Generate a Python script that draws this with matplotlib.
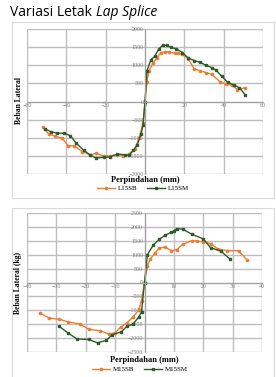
import matplotlib.pyplot as plt
from matplotlib.patches import Rectangle

# top chart: L15SB / L15SM
l15sb_x = [-52, -49, -46, -42, -39, -36, -32, -28, -25, -21, -18, -14, -11, -8, -5, -3, -1, 0,
           1, 2, 4, 6, 8, 10, 12, 15, 17, 19, 22, 25, 28, 31, 34, 38, 41, 44, 47, 51]
l15sb_y = [-700, -900, -950, -1020, -1230, -1220, -1380, -1470, -1430, -1500, -1500, -1470, -1490, -1450,
           -1300, -1000, -600, 0, 550, 850, 1050, 1200, 1350, 1370, 1370, 1330, 1330, 1300, 1180, 900,
           850, 800, 750, 550, 480, 450, 330, 380]
l15sm_x = [-51, -48, -45, -41, -38, -35, -31, -28, -25, -21, -18, -14, -10, -8, -6, -4, -2, -1, 0,
           1, 3, 5, 7, 9, 11, 13, 16, 19, 22, 25, 28, 31, 34, 36, 39, 42, 45, 48, 51]
l15sm_y = [-750, -830, -870, -880, -940, -1150, -1350, -1470, -1560, -1540, -1530, -1450, -1470, -1480,
           -1350, -1200, -900, -650, 0, 850, 1150, 1250, 1450, 1550, 1550, 1500, 1450, 1350, 1200, 1130,
           1080, 1000, 930, 870, 700, 530, 460, 380, 180]

# bottom chart: M15SB / M15SM
m15sb_x = [-35.5, -32.5, -29, -26, -22, -19, -15, -12, -10, -8, -6, -4, -2, -1, 0,
           1, 2, 3.5, 5, 7, 9, 11, 13, 16, 18, 20, 22.5, 25, 28, 32, 35]
m15sb_y = [-1100, -1280, -1320, -1420, -1490, -1680, -1740, -1860, -1800, -1600, -1450, -1250, -1000,
           -650, 0, 600, 850, 1050, 1230, 1280, 1150, 1180, 1370, 1500, 1490, 1460, 1400, 1200, 1150,
           1140, 800]
m15sm_x = [-29, -26, -23, -19, -16, -13, -11, -8, -6, -4, -2, -1, 0,
           1, 3, 5, 7, 9, 10, 11, 13, 16, 20, 22.5, 26, 29]
m15sm_y = [-1580, -1820, -2030, -2050, -2170, -2080, -1880, -1780, -1580, -1500, -1250, -1050, 0,
           1000, 1350, 1550, 1700, 1800, 1850, 1940, 1920, 1740, 1570, 1250, 1130, 850]

orange = '#ED7D31'
green = '#2F5B2A'
W, H = 276, 377


def px_axes(fig, left, top, right, bottom):
    return fig.add_axes([left / W, 1 - bottom / H, (right - left) / W, (bottom - top) / H])


def style_axes(ax, xlim, xstep, ylim, ystep):
    xt = list(range(xlim[0], xlim[1] + 1, xstep))
    yt = list(range(ylim[0], ylim[1] + 1, ystep))
    ax.set_xlim(*xlim)
    ax.set_ylim(*ylim)
    ax.set_xticks(xt)
    ax.set_yticks(yt)
    ax.grid(True, color='#bdbdbd', linewidth=1.0)
    for s in ['top', 'right']:
        ax.spines[s].set_visible(False)
    ax.spines['left'].set_position('zero')
    ax.spines['bottom'].set_position('zero')
    ax.spines['left'].set_color('#a0a0a0')
    ax.spines['bottom'].set_color('#a0a0a0')
    ax.spines['left'].set_linewidth(0.8)
    ax.spines['bottom'].set_linewidth(0.8)
    ax.tick_params(length=0, labelsize=4.3, labelcolor='#7f7f7f', pad=1)
    for lab in ax.get_xticklabels() + ax.get_yticklabels():
        lab.set_family('Liberation Serif')


fig = plt.figure(figsize=(W / 100, H / 100), dpi=100)

# panel boxes
fig.patches.append(Rectangle((12 / W, 1 - 198 / H), 262 / W, 176 / H, transform=fig.transFigure,
                             fill=False, ec='#d9d9d9', lw=0.8))
fig.patches.append(Rectangle((12 / W, 1 - 380 / H), 262 / W, 172 / H, transform=fig.transFigure,
                             fill=False, ec='#d9d9d9', lw=0.8))

# top chart
ax1 = px_axes(fig, 27, 29, 263, 174)
style_axes(ax1, (-60, 60), 20, (-2000, 2000), 500)
ax1.plot(l15sb_x, l15sb_y, color=orange, lw=1.0, marker='o', ms=1.6, label='L15SB')
ax1.plot(l15sm_x, l15sm_y, color=green, lw=1.0, marker='s', ms=1.6, label='L15SM')
fig.text(19 / W, 1 - 100 / H, 'Beban Lateral', rotation=90, fontsize=5.5, weight='bold',
         family='Liberation Serif', ha='center', va='center')
fig.text(145 / W, 1 - 180 / H, 'Perpindahan (mm)', fontsize=6, weight='bold',
         family='Liberation Serif', ha='center', va='center')
fig.legend(*ax1.get_legend_handles_labels(), loc='center', bbox_to_anchor=(143 / W, 1 - 188.5 / H),
           ncol=2, frameon=False, prop={'family': 'Liberation Serif', 'size': 5},
           handlelength=2.5, columnspacing=1.5, handletextpad=0.4)

# bottom chart
ax2 = px_axes(fig, 27, 213, 262, 352)
style_axes(ax2, (-40, 40), 10, (-2500, 2500), 500)
ax2.plot(m15sb_x, m15sb_y, color=orange, lw=1.0, marker='o', ms=1.6, label='M15SB')
ax2.plot(m15sm_x, m15sm_y, color=green, lw=1.0, marker='s', ms=1.6, label='M15SM')
fig.text(18 / W, 1 - 283 / H, 'Beban Lateral (kg)', rotation=90, fontsize=5.5, weight='bold',
         family='Liberation Serif', ha='center', va='center')
fig.text(144 / W, 1 - 359.5 / H, 'Perpindahan (mm)', fontsize=6, weight='bold',
         family='Liberation Serif', ha='center', va='center')
fig.legend(*ax2.get_legend_handles_labels(), loc='center', bbox_to_anchor=(140 / W, 1 - 369.5 / H),
           ncol=2, frameon=False, prop={'family': 'Liberation Serif', 'size': 5},
           handlelength=2.5, columnspacing=1.5, handletextpad=0.4)

# title: plain part, then italic part placed right after it
t1 = fig.text(10 / W, 1 - 13 / H, 'Variasi Letak ', fontsize=10, family='Open Sans',
              va='center', ha='left')
ext = t1.get_window_extent(renderer=fig.canvas.get_renderer())
fig.text(ext.x1 / W + 1 / W, 1 - 13 / H, 'Lap Splice', fontsize=10, family='Open Sans',
         style='italic', va='center', ha='left')

plt.savefig('out.png', dpi=100)
